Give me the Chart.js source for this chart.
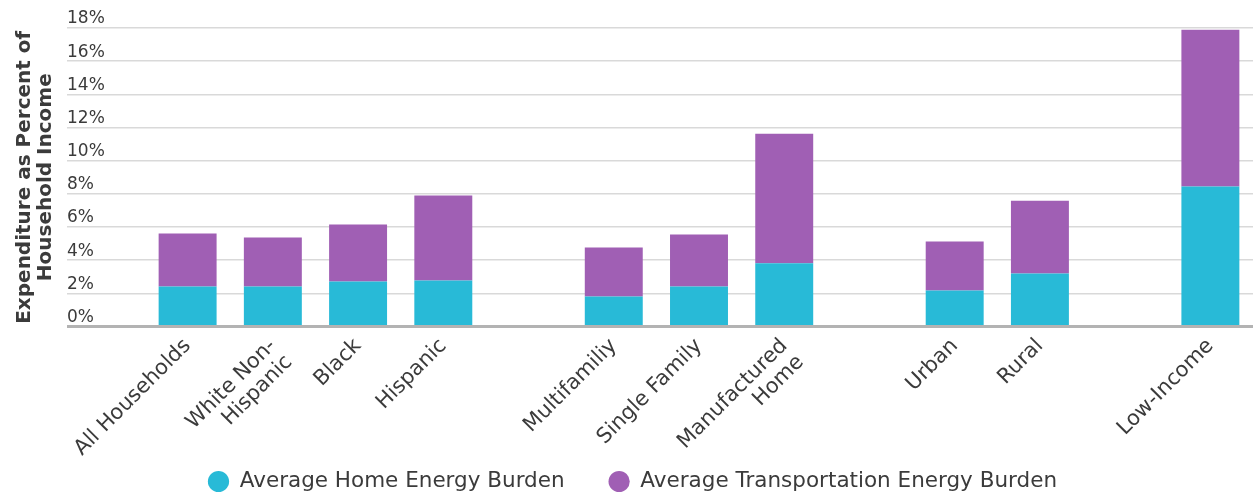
<!DOCTYPE html>
<html>
<head>
<meta charset="utf-8">
<script src="https://cdn.jsdelivr.net/npm/chart.js@4/dist/chart.umd.min.js"></script>
<style>
  html, body { margin: 0; padding: 0; background: #ffffff; }
  #wrap { width: 1258px; height: 495px; position: relative; }
</style>
</head>
<body>
<div id="wrap"><canvas id="c"></canvas></div>
<script>
// ---- data ----
const categories = [
  'All Households', ['White Non-', 'Hispanic'], 'Black', 'Hispanic', '',
  'Multifamiliy', 'Single Family', ['Manufactured', 'Home'], '',
  'Urban', 'Rural', '', 'Low-Income'
];
const homeBurden      = [2.41, 2.41, 2.71, 2.77, null, 1.81, 2.41, 3.82, null, 2.17, 3.19, null, 8.44];
const transportBurden = [3.20, 2.95, 3.44, 5.13, null, 2.95, 3.14, 7.81, null, 2.95, 4.40, null, 9.46];
const seriesNames = ['Average Home Energy Burden', 'Average Transportation Energy Burden'];
const yTicks = { min: 0, max: 18, step: 2 };
const yTitle = ['Expenditure as Percent of', 'Household Income'];

// ---- style ----
const TEAL = '#28bad7';
const PURPLE = '#a05fb4';
const TEXT = '#3b3b3b';
const GRID = '#d9d9d9';
const BASE = '#b3b3b3';
const LEGEND_CENTER_Y = 481.5;
const LEGEND_FONT = 21.5;
const LEGEND_GAP = 44;
Chart.defaults.font.family = "'DejaVu Sans', sans-serif";
Chart.defaults.color = TEXT;

// moves the legend box so its row sits at the wanted height
const legendPlacer = {
  id: 'legendPlacer',
  afterLayout(chart) {
    const lg = chart.legend;
    if (!lg) return;
    const h = lg.bottom - lg.top;
    const top = LEGEND_CENTER_Y - LEGEND_FONT / 2 - LEGEND_GAP;
    lg.top = top;
    lg.bottom = top + h;
  }
};

new Chart(document.getElementById('c'), {
  type: 'bar',
  data: {
    labels: categories,
    datasets: [
      { label: seriesNames[0], data: homeBurden, backgroundColor: TEAL, borderWidth: 0,
        categoryPercentage: 1, barPercentage: 0.68 },
      { label: seriesNames[1], data: transportBurden, backgroundColor: PURPLE, borderWidth: 0,
        categoryPercentage: 1, barPercentage: 0.68 }
    ]
  },
  plugins: [legendPlacer],
  options: {
    responsive: true,
    maintainAspectRatio: false,
    animation: false,
    layout: { padding: { left: 12, right: 5, top: 28, bottom: -42 } },
    plugins: {
      tooltip: { enabled: false },
      legend: {
        position: 'bottom',
        labels: {
          usePointStyle: true,
          pointStyle: 'circle',
          boxWidth: 21,
          boxHeight: 15,
          padding: LEGEND_GAP,
          color: TEXT,
          font: { size: LEGEND_FONT }
        }
      }
    },
    scales: {
      x: {
        stacked: true,
        grid: { display: false, drawTicks: false },
        border: { display: false },
        ticks: {
          autoSkip: false,
          maxRotation: 45,
          minRotation: 45,
          padding: 8,
          color: TEXT,
          font: { size: 21, lineHeight: 1.1 }
        },
        afterFit: (s) => { s.height = 135; }
      },
      y: {
        stacked: true,
        min: yTicks.min,
        max: yTicks.max,
        border: { display: false },
        grid: {
          color: (ctx) => (ctx.tick && ctx.tick.value === 0 ? BASE : GRID),
          lineWidth: (ctx) => (ctx.tick && ctx.tick.value === 0 ? 3 : 1.5),
          drawTicks: true,
          tickLength: 78,
          tickColor: (ctx) => (ctx.tick && ctx.tick.value === 0 ? BASE : GRID),
          tickWidth: (ctx) => (ctx.tick && ctx.tick.value === 0 ? 3 : 1.5)
        },
        ticks: {
          stepSize: yTicks.step,
          mirror: true,
          padding: -78,
          labelOffset: -9,
          color: TEXT,
          font: { size: 17 },
          callback: (v) => v + '%'
        },
        title: {
          display: true,
          text: yTitle,
          color: TEXT,
          font: { size: 20, weight: 'bold', lineHeight: 1.05 },
          padding: { top: 2, bottom: 0 }
        },
        afterFit: (s) => { s.width = 133; }
      }
    }
  }
});
</script>
</body>
</html>
